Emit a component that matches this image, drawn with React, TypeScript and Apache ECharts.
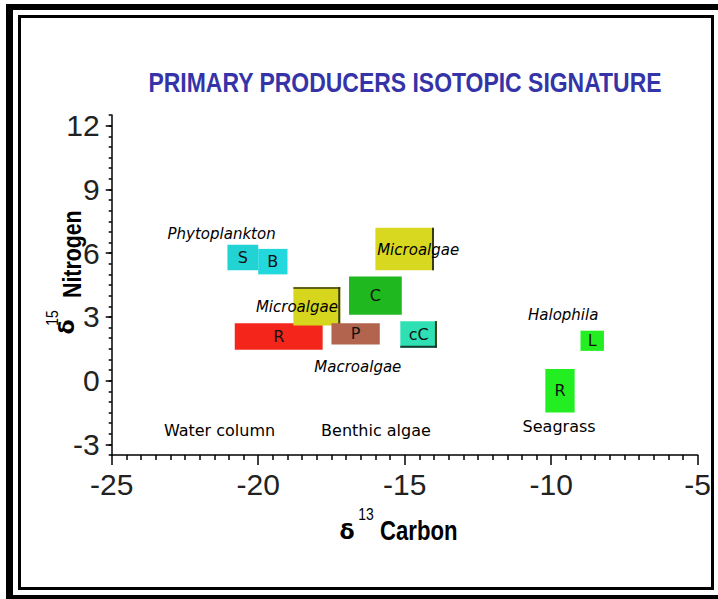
import React, { useEffect, useRef } from "react";
import * as echarts from "echarts";

// Boxes (ranges of δ13C / δ15N)
const boxNames = ["S", "B", "R", "", "C", "P", "", "cC", "L", "R"];
const boxX1 = [-21.05, -20.0, -20.8, -18.8, -16.9, -17.5, -16.0, -15.15, -9.0, -10.2];
const boxX2 = [-20.0, -19.0, -17.8, -17.2, -15.1, -15.85, -14.0, -13.9, -8.2, -9.2];
const boxY1 = [5.2, 5.0, 1.45, 2.6, 3.1, 1.7, 5.2, 1.55, 1.4, -1.5];
const boxY2 = [6.4, 6.2, 2.7, 4.4, 4.9, 2.7, 7.2, 2.8, 2.35, 0.55];
const boxColors = ["#22d3d3", "#22d8dc", "#f4261c", "#d6d61e", "#1fb81f", "#b2644e", "#d8d820", "#2ee0b4", "#22ee22", "#22ee22"];
const boxEdge = ["", "", "", "tr", "", "", "r", "br", "", ""];

// Annotations
const annotTexts = ["Phytoplankton", "Microalgae", "Microalgae", "Macroalgae", "Halophila", "Seagrass", "Water column", "Benthic algae"];
const annotX = [-21.25, -18.68, -14.54, -16.6, -9.59, -9.73, -21.32, -15.98];
const annotY = [6.9, 3.48, 6.15, 0.65, 3.09, -2.17, -2.37, -2.37];
const annotItalic = [true, true, true, true, true, false, false, false];

// Ticks
const yMajorTicks = [-3, 0, 3, 6, 9, 12];

const TICK_FONT = "'Liberation Sans', Arial, sans-serif";
const LABEL_FONT = "'DejaVu Sans', sans-serif";
const ARIAL = "'Liberation Sans', Arial, sans-serif";
const NARROW = 0.82;

export default function App() {
  const ref = useRef<HTMLDivElement>(null);
  useEffect(() => {
    if (!ref.current) return;
    const chart = echarts.init(ref.current, null, { renderer: "svg" });

    const boxData = boxNames.map((n, i) => [boxX1[i], boxY1[i], boxX2[i], boxY2[i], i]);
    const annotData = annotTexts.map((t, i) => [annotX[i], annotY[i], i]);

    const option: any = {
      animation: false,
      backgroundColor: "#ffffff",
      grid: { left: 111.7, right: 20.3, top: 115, bottom: 144, containLabel: false, outerBoundsMode: "none" },
      xAxis: {
        type: "value",
        min: -25,
        max: -5,
        interval: 5,
        axisLine: { show: true, onZero: false, lineStyle: { color: "#000", width: 1.5 } },
        axisTick: { show: true, length: 10, lineStyle: { color: "#000", width: 1.5 } },
        minorTick: { show: true, splitNumber: 10, length: 5, lineStyle: { color: "#000", width: 1.5 } },
        axisLabel: { fontSize: 30, fontFamily: TICK_FONT, color: "#222", margin: 14 },
        splitLine: { show: false },
        minorSplitLine: { show: false },
      },
      yAxis: [
        {
          type: "value",
          min: -3.5,
          max: 12.5,
          axisLine: { show: true, onZero: false, lineStyle: { color: "#000", width: 1.5 } },
          axisTick: { show: true, length: 6, customValues: yMajorTicks, lineStyle: { color: "#000", width: 1.5 } },
          axisLabel: { customValues: yMajorTicks, fontSize: 30, fontFamily: TICK_FONT, color: "#222", margin: 12 },
          splitLine: { show: false },
        },
        {
          type: "value",
          min: -3.5,
          max: 12.5,
          interval: 0.5,
          position: "left",
          offset: 0,
          axisLine: { show: false },
          axisTick: { show: true, length: 3, lineStyle: { color: "#000", width: 1.5 } },
          axisLabel: { show: false },
          splitLine: { show: false },
        },
      ],
      series: [
        {
          type: "custom",
          xAxisIndex: 0,
          yAxisIndex: 0,
          data: boxData,
          renderItem: (params: any, api: any) => {
            const i = api.value(4);
            const p1 = api.coord([api.value(0), api.value(3)]);
            const p2 = api.coord([api.value(2), api.value(1)]);
            const x = p1[0], y = p1[1], w = p2[0] - p1[0], h = p2[1] - p1[1];
            const children: any[] = [
              { type: "rect", shape: { x, y, width: w, height: h }, style: { fill: boxColors[i] } },
            ];
            const edge = boxEdge[i];
            const dark = "#3a3a10";
            if (edge.includes("r")) children.push({ type: "rect", shape: { x: x + w - 2, y, width: 2, height: h }, style: { fill: dark } });
            if (edge.includes("t")) children.push({ type: "rect", shape: { x, y, width: w, height: 1.5 }, style: { fill: dark } });
            if (edge.includes("b")) children.push({ type: "rect", shape: { x, y: y + h - 2, width: w, height: 2 }, style: { fill: "#1a3a30" } });
            if (boxNames[i]) {
              children.push({
                type: "text",
                x: x + w / 2,
                y: y + h / 2,
                style: { text: boxNames[i], fill: "#111", font: `16px ${LABEL_FONT}`, align: "center", verticalAlign: "middle" },
              });
            }
            return { type: "group", children };
          },
          z: 2,
        },
        {
          type: "custom",
          xAxisIndex: 0,
          yAxisIndex: 0,
          data: annotData,
          renderItem: (params: any, api: any) => {
            const i = api.value(2);
            const p = api.coord([api.value(0), api.value(1)]);
            return {
              type: "text",
              x: p[0],
              y: p[1],
              style: {
                text: annotTexts[i],
                fill: "#000",
                font: annotItalic[i] ? `italic 15px ${LABEL_FONT}` : `16px ${LABEL_FONT}`,
                align: "center",
                verticalAlign: "middle",
              },
            };
          },
          z: 3,
        },
      ],
      graphic: [
        // outer frame
        { type: "rect", shape: { x: 6, y: 4, width: 7, height: 595 }, style: { fill: "#000" } },
        { type: "rect", shape: { x: 6, y: 4, width: 712, height: 6 }, style: { fill: "#000" } },
        { type: "rect", shape: { x: 6, y: 595, width: 712, height: 4 }, style: { fill: "#000" } },
        // inner frame
        { type: "rect", shape: { x: 19.5, y: 16.5, width: 693, height: 572 }, style: { fill: "none", stroke: "#000", lineWidth: 3 } },
        // title
        {
          type: "text",
          x: 405,
          y: 82,
          scaleX: NARROW,
          style: { text: "PRIMARY PRODUCERS ISOTOPIC SIGNATURE", fill: "#3434a8", font: `bold 28px ${ARIAL}`, align: "center", verticalAlign: "middle" },
        },
        // x axis name
        { type: "text", x: 347, y: 531, style: { text: "δ", fill: "#000", font: `bold 22px ${LABEL_FONT}`, align: "center", verticalAlign: "middle" } },
        { type: "text", x: 366, y: 514, scaleX: NARROW, style: { text: "13", fill: "#000", font: `17px ${ARIAL}`, align: "center", verticalAlign: "middle" } },
        { type: "text", x: 380, y: 531, scaleX: NARROW, style: { text: "Carbon", fill: "#000", font: `bold 27px ${ARIAL}`, align: "left", verticalAlign: "middle" } },
        // y axis name
        { type: "text", x: 66, y: 327, rotation: Math.PI / 2, style: { text: "δ", fill: "#000", font: `bold 22px ${LABEL_FONT}`, align: "center", verticalAlign: "middle" } },
        { type: "text", x: 52, y: 318, rotation: Math.PI / 2, scaleX: NARROW, style: { text: "15", fill: "#000", font: `17px ${ARIAL}`, align: "center", verticalAlign: "middle" } },
        { type: "text", x: 72, y: 298, rotation: Math.PI / 2, scaleX: NARROW, style: { text: "Nitrogen", fill: "#000", font: `bold 26px ${ARIAL}`, align: "left", verticalAlign: "middle" } },
      ],
    };
    chart.setOption(option);
    return () => chart.dispose();
  }, []);
  return <div ref={ref} style={{ position: "absolute", left: 0, top: 0, width: 718, height: 599, background: "#fff" }} />;
}
